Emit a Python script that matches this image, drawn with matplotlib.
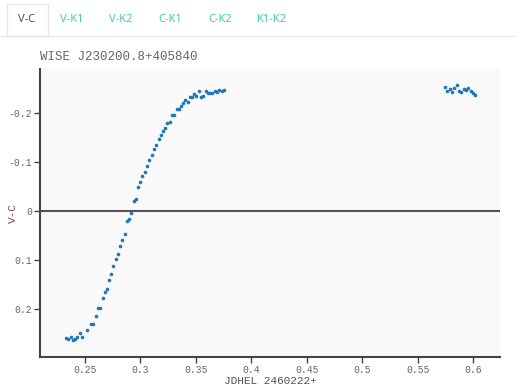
#!/usr/bin/env python3

import matplotlib

matplotlib.use("Agg")
import matplotlib.pyplot as plt
from matplotlib.patches import Rectangle
from matplotlib.lines import Line2D

TITLE = "WISE J230200.8+405840"
TABS = ["V-C", "V-K1", "V-K2", "C-K1", "C-K2", "K1-K2"]
X_LABEL = "JDHEL 2460222+"
Y_LABEL = "V-C"

# rising branch
jd_rise = [
    0.2326, 0.2350, 0.2371, 0.2392, 0.2410, 0.2431, 0.2455, 0.2473, 0.2515,
    0.2554, 0.2575, 0.2596, 0.2617, 0.2638, 0.2659, 0.2677, 0.2698, 0.2716,
    0.2737, 0.2757, 0.2778, 0.2799, 0.2820, 0.2838, 0.2859, 0.2880, 0.2901,
    0.2919, 0.2940, 0.2961, 0.2979, 0.3000, 0.3018, 0.3039, 0.3060, 0.3081,
    0.3102, 0.3123, 0.3144, 0.3165, 0.3183, 0.3204, 0.3225, 0.3243, 0.3263,
    0.3284, 0.3305, 0.3326, 0.3344, 0.3365, 0.3386, 0.3404, 0.3425, 0.3443,
    0.3464, 0.3485, 0.3503, 0.3527, 0.3545, 0.3566, 0.3587, 0.3608, 0.3626,
    0.3647, 0.3668, 0.3689, 0.3710, 0.3731, 0.3751,
]
vc_rise = [
    0.259, 0.261, 0.256, 0.263, 0.261, 0.256, 0.249, 0.256, 0.241,
    0.229, 0.229, 0.213, 0.197, 0.197, 0.176, 0.165, 0.158, 0.141,
    0.127, 0.112, 0.097, 0.088, 0.070, 0.059, 0.047, 0.019, 0.016,
    0.003, -0.021, -0.026, -0.050, -0.059, -0.072, -0.081, -0.093, -0.105,
    -0.115, -0.127, -0.136, -0.147, -0.156, -0.163, -0.169, -0.180, -0.182,
    -0.196, -0.196, -0.208, -0.209, -0.215, -0.221, -0.226, -0.222, -0.232,
    -0.232, -0.239, -0.234, -0.245, -0.233, -0.234, -0.246, -0.242, -0.241,
    -0.242, -0.246, -0.243, -0.247, -0.246, -0.247,
]

# late group
jd_late = [
    0.5745, 0.5766, 0.5787, 0.5808, 0.5829, 0.5850, 0.5871,
    0.5892, 0.5913, 0.5934, 0.5955, 0.5976, 0.5997, 0.6018,
]
vc_late = [
    -0.254, -0.246, -0.249, -0.243, -0.252, -0.257, -0.246,
    -0.244, -0.249, -0.247, -0.251, -0.246, -0.242, -0.238,
]

x_ticks = [0.25, 0.3, 0.35, 0.4, 0.45, 0.5, 0.55, 0.6]
x_ticklabels = ["0.25", "0.3", "0.35", "0.4", "0.45", "0.5", "0.55", "0.6"]
y_ticks = [-0.2, -0.1, 0, 0.1, 0.2]
y_ticklabels = ["-0.2", "-0.1", "0", "0.1", "0.2"]

W, H = 516, 388
MONO = "Liberation Mono"

fig = plt.figure(figsize=(W / 100, H / 100), dpi=100)
fig.patch.set_facecolor("white")

# tab bar
fig.add_artist(Line2D([0, 1], [1 - 36 / H] * 2, color="#e6e6e6", lw=1,
                      transform=fig.transFigure))
fig.add_artist(Rectangle((7 / W, 1 - 36 / H), 41 / W, 32 / H,
                         transform=fig.transFigure, facecolor="white",
                         edgecolor="#e6e6e6", lw=1))
tab_x = [27, 72, 121, 170, 220, 272]
for i, (name, tx) in enumerate(zip(TABS, tab_x)):
    fig.text(tx / W, 1 - 19 / H, name, ha="center", va="center",
             fontsize=8, family="Open Sans",
             color="#444444" if i == 0 else "#3cc4a2")

fig.text(40 / W, 1 - 57 / H, TITLE, ha="left", va="center",
         fontsize=9, family=MONO, color="#666666")

ax = fig.add_axes([40 / W, 1 - 357 / H, 460 / W, 288 / H])
ax.set_facecolor("#f9f9f9")
ax.plot(jd_rise, vc_rise, "o", color="#1f77b4", ms=2.6, mew=0)
ax.plot(jd_late, vc_late, "o", color="#1f77b4", ms=2.6, mew=0)
ax.axhline(0, color="#555555", lw=1.5, zorder=0.5)

ax.set_xlim(0.2095, 0.624)
ax.set_ylim(0.297, -0.29)
ax.set_xticks(x_ticks)
ax.set_xticklabels(x_ticklabels)
ax.set_yticks(y_ticks)
ax.set_yticklabels(y_ticklabels)

for s in ["top", "right"]:
    ax.spines[s].set_visible(False)
for s in ["left", "bottom"]:
    ax.spines[s].set_color("#444444")
    ax.spines[s].set_linewidth(1.5)
ax.tick_params(direction="out", length=4, width=1, color="#444444",
               labelsize=7, labelcolor="#666666", pad=1.5)
for lbl in ax.get_xticklabels() + ax.get_yticklabels():
    lbl.set_family(MONO)

ax.set_xlabel(X_LABEL, family=MONO, fontsize=8, color="#555555")
ax.set_ylabel(Y_LABEL, family=MONO, fontsize=8, color="#7a4a5e")
ax.xaxis.set_label_coords(0.5, -24 / 288)
ax.yaxis.set_label_coords(-27 / 460, 0.5)
ax.xaxis.label.set_va("center")
ax.yaxis.label.set_va("center")

fig.savefig("out.png", dpi=100)
plt.close(fig)
